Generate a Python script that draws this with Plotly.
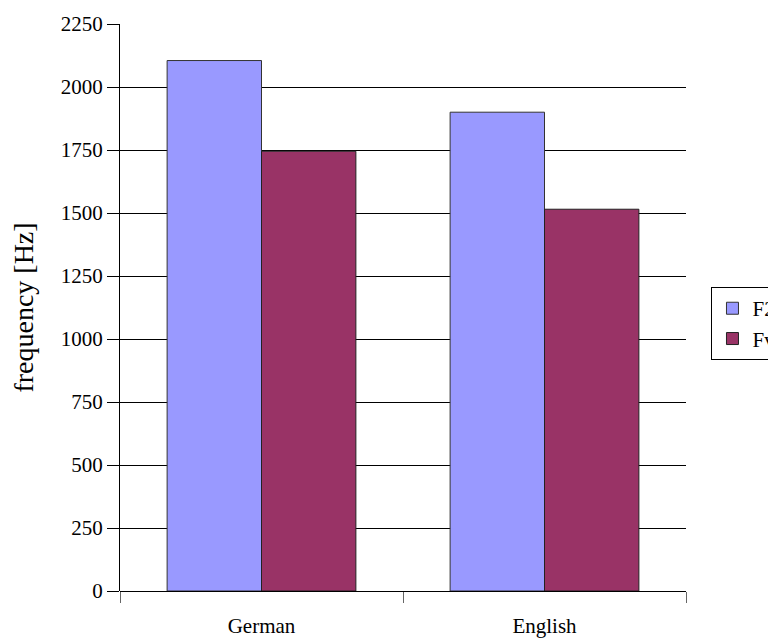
import plotly.graph_objects as go

# Languages on the category axis
languages = ["German", "English"]

# Mean frequencies per language (Hz)
f2_values = [2105, 1900]
fv_values = [1745, 1515]

series_names = ["F2onset", "Fvowel"]
y_ticks = [0, 250, 500, 750, 1000, 1250, 1500, 1750, 2000, 2250]

serif = "Liberation Serif, Times New Roman, serif"

fig = go.Figure()
fig.add_trace(go.Bar(
    x=languages, y=f2_values, name=series_names[0],
    marker=dict(color="#9999FF", line=dict(color="#333333", width=1)),
))
fig.add_trace(go.Bar(
    x=languages, y=fv_values, name=series_names[1],
    marker=dict(color="#993366", line=dict(color="#222222", width=1)),
))

fig.update_layout(
    width=768, height=640,
    margin=dict(l=120, r=82, t=24, b=49, autoexpand=False),
    paper_bgcolor="white", plot_bgcolor="white",
    barmode="group", bargap=0.333, bargroupgap=0,
    font=dict(family=serif, size=21, color="black"),
    showlegend=True,
    legend=dict(
        x=1.045, y=0.536, xanchor="left", yanchor="top",
        bordercolor="black", borderwidth=1,
        font=dict(family=serif, size=21, color="black"),
        tracegroupgap=4, itemwidth=30,
    ),
)

fig.update_xaxes(
    showgrid=False, showline=False, zeroline=False,
    ticks="outside", tickson="boundaries", ticklen=11, tickwidth=1,
    tickcolor="#666666", ticklabelstandoff=20,
    tickfont=dict(family=serif, size=21, color="black"),
)

fig.update_yaxes(
    range=[0, 2250], tickvals=y_ticks,
    showgrid=True, gridcolor="black", gridwidth=1,
    zeroline=True, zerolinecolor="black", zerolinewidth=1,
    showline=True, linecolor="black", linewidth=1,
    ticks="outside", ticklen=12, tickcolor="black",
    tickfont=dict(family=serif, size=21, color="black"),
    title=dict(text="frequency [Hz]", font=dict(family=serif, size=28, color="black"), standoff=18),
)

fig.write_html("out.html")
